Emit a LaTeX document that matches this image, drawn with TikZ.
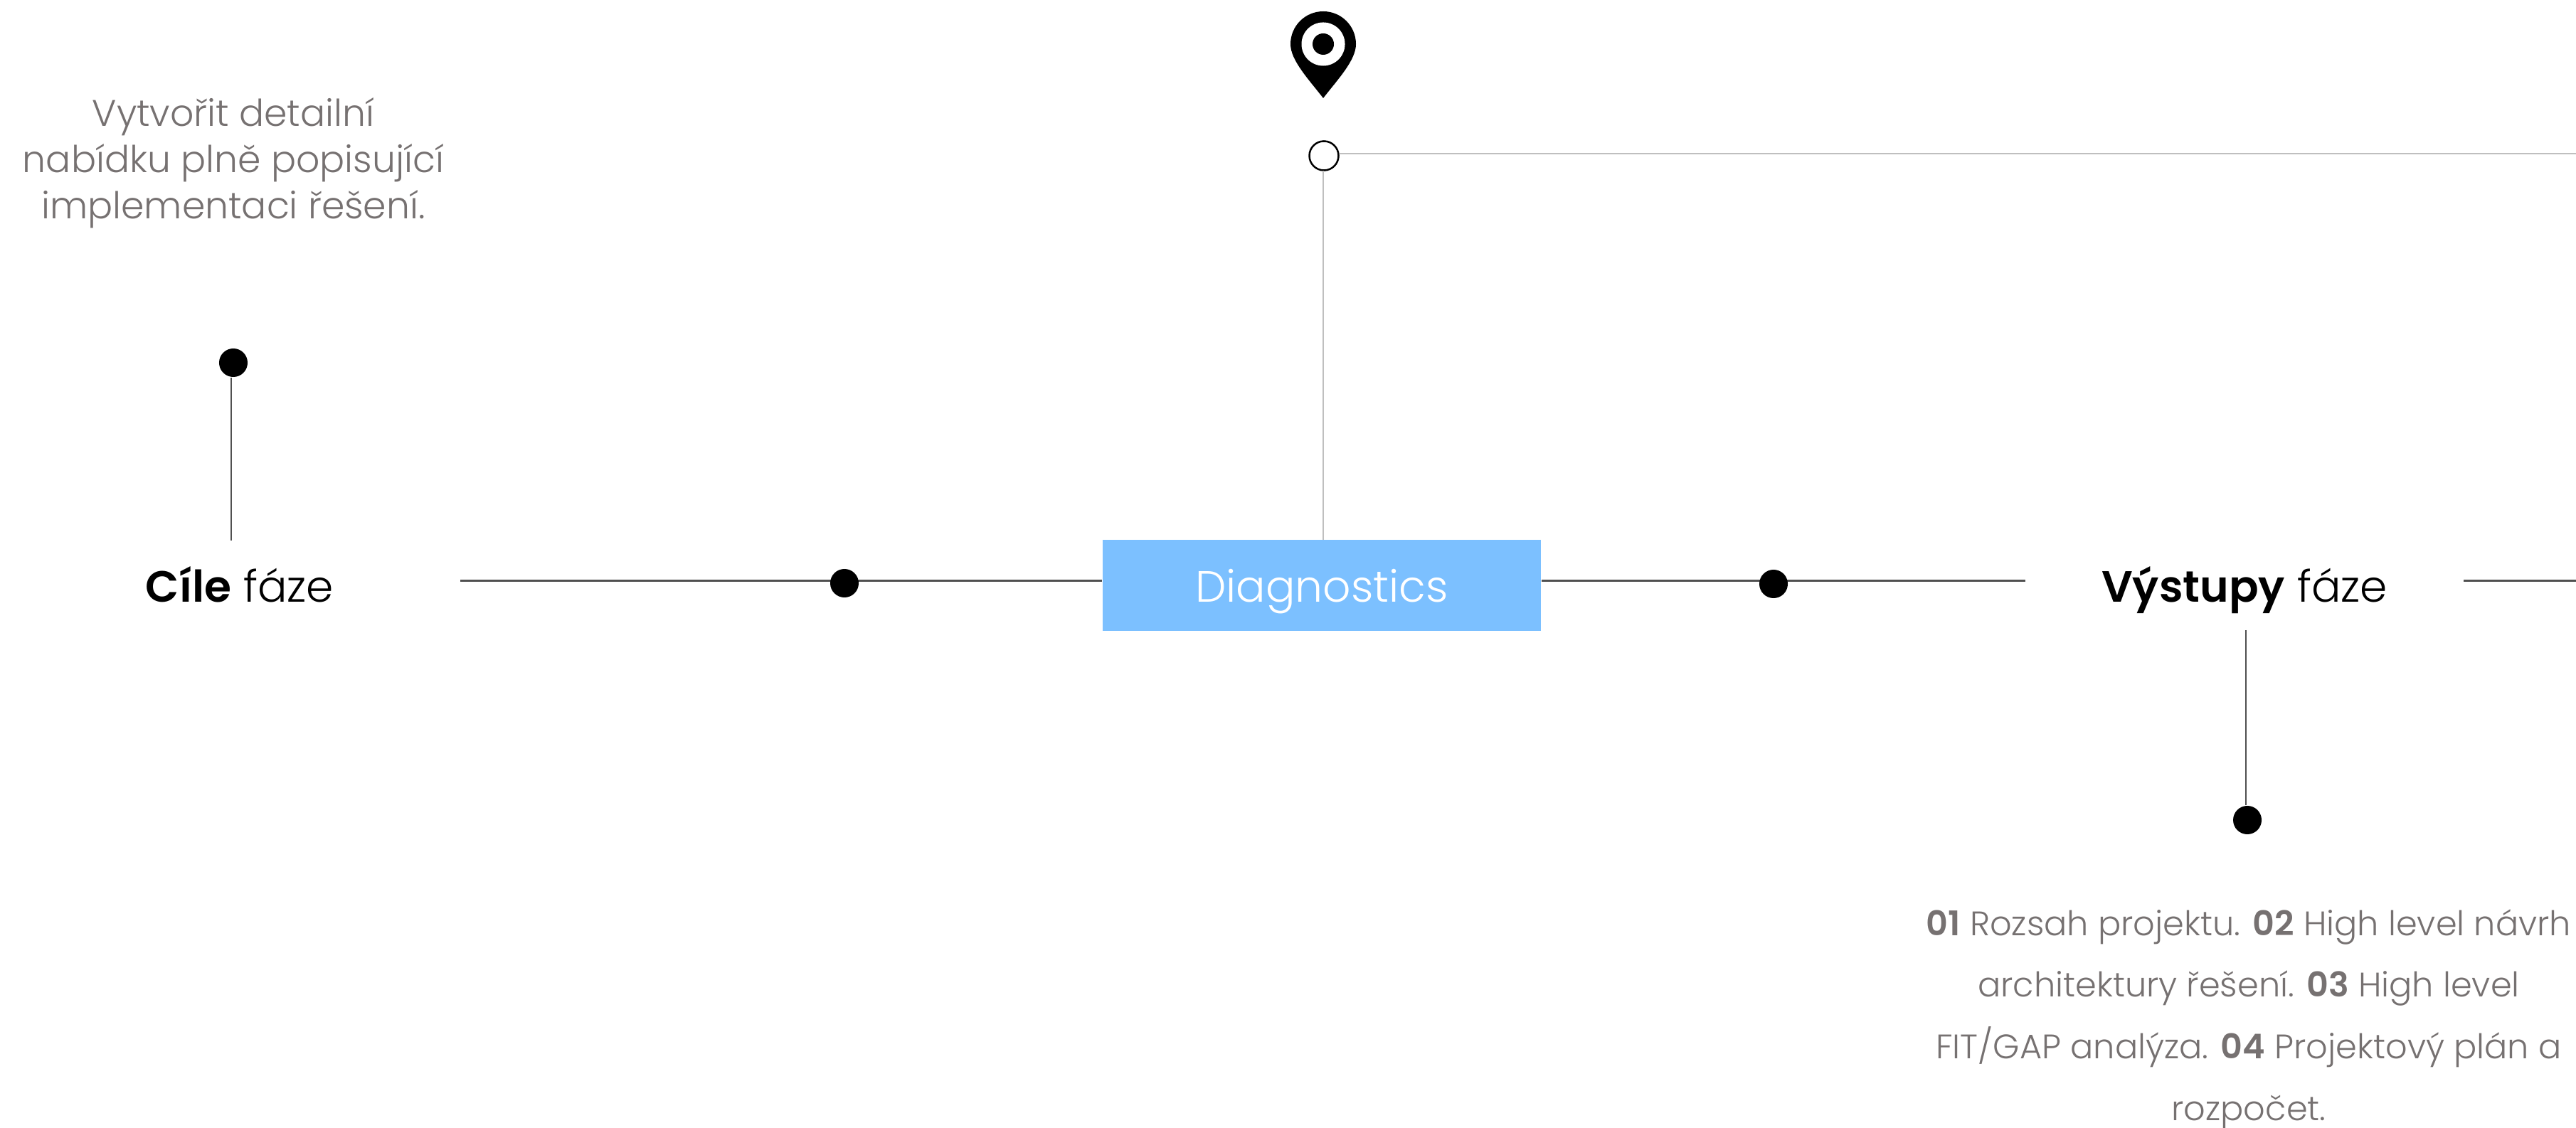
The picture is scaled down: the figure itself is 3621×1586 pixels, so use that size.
\documentclass[tikz,border=0pt]{standalone}
\usepackage{fontspec}
\setmainfont{Poppins Light}[BoldFont={Poppins SemiBold}]
\usetikzlibrary{positioning}
\definecolor{phaseblue}{RGB}{124, 192, 255}
\definecolor{textgrey}{RGB}{118, 113, 113}
\definecolor{linegrey}{RGB}{80, 80, 80}
\definecolor{lightline}{RGB}{191, 191, 191}
\tikzset{
    dot/.style={circle, fill=black, inner sep=0pt, minimum size=0.4cm},
    mainline/.style={linegrey, line width=0.3mm},
    stem/.style={linegrey, line width=0.2mm},
    lightstem/.style={lightline, line width=0.25mm},
    heading/.style={black, anchor=base, font=\fontsize{17.5}{21}\selectfont},
}

\begin{document}
\begin{tikzpicture}[x=0.01cm, y=-0.01cm]
    \useasboundingbox (0,0) rectangle (3621,1586);

    \node[fill=phaseblue, text=white, inner sep=0pt, minimum width=6.16cm, minimum height=1.27cm, text height=0.5cm, text depth=0.03cm, font=\fontsize{17.5}{21}\selectfont] (diag) at (1858, 823) {Diagnostics};
    \node[heading] (cile) at (337, 847) {\textbf{Cíle} fáze};
    \node[heading] (vystupy) at (3155, 847) {\textbf{Výstupy} fáze};

    \coordinate (linestart) at (647, 817);
    \coordinate (lineout) at (2847, 817);
    \coordinate (lineback) at (3463, 817);
    \coordinate (lineend) at (3621, 817);
    \draw[mainline] (linestart) -- (linestart -| diag.west);
    \draw[mainline] (lineout -| diag.east) -- (lineout);
    \draw[mainline] (lineback) -- (lineend);

    \node[dot] (dotleft) at (1187, 820) {};
    \node[dot] (dotright) at (2493, 821) {};

    \node[dot] (dotcile) at (328, 510) {};
    \coordinate (cilefoot) at (325, 760);
    \draw[stem] (cilefoot) -- (cilefoot |- dotcile.south);

    \node[dot] (dotvystupy) at (3159, 1153) {};
    \coordinate (vystupyfoot) at (3157, 886);
    \draw[stem] (vystupyfoot) -- (vystupyfoot |- dotvystupy.north);

    \node[circle, draw=black, fill=white, line width=0.25mm, inner sep=0pt, minimum size=0.41cm] (milestone) at (1861, 219) {};
    \coordinate (milestoneend) at (3621, 216);
    \draw[lightstem] (milestone.east |- milestoneend) -- (milestoneend);
    \draw[lightstem] (1860, 240) coordinate (milestonefoot) -- (milestonefoot |- diag.north);

    \fill[black] (1860, 138) .. controls (1840, 112) and (1814, 85) .. (1814, 62)
        arc[start angle=180, end angle=0, x radius=46, y radius=-46]
        .. controls (1906, 85) and (1880, 112) .. (1860, 138) -- cycle;
    \node[circle, fill=white, inner sep=0pt, minimum size=0.61cm] (pinring) at (1860, 62) {};
    \node[circle, fill=black, inner sep=0pt, minimum size=0.3cm] (pindot) at (1860, 62) {};

    \node[textgrey, align=center, font=\fontsize{14.8}{18.5}\selectfont] (goaltext) at (328, 229) {Vytvořit detailní\\nabídku plně popisující\\implementaci řešení.};

    \node[textgrey, align=center, inner sep=0pt, font=\fontsize{13.6}{24.6}\selectfont] (outputtext) at (3161, 1433) {\textbf{01} Rozsah projektu. \textbf{02} High level návrh\\architektury řešení. \textbf{03} High level\\FIT/GAP analýza. \textbf{04} Projektový plán a\\rozpočet.};
\end{tikzpicture}
\end{document}
